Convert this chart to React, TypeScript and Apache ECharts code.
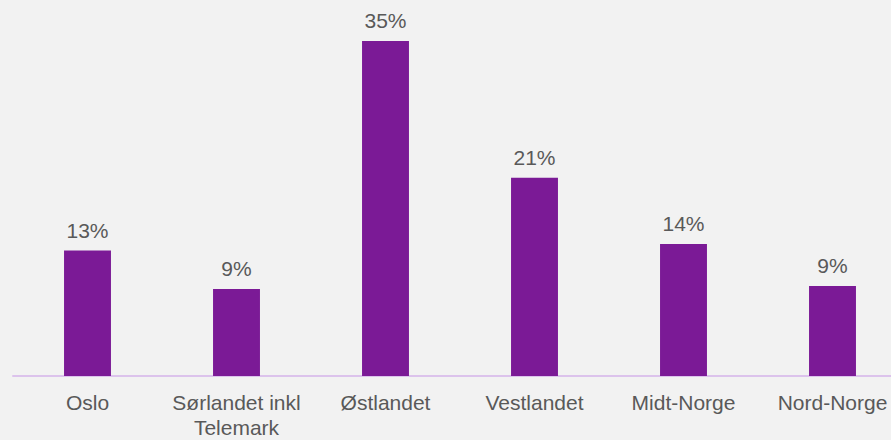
import React, { useEffect, useRef } from "react";
import * as echarts from "echarts";

const categories = ["Oslo", "Sørlandet inkl\nTelemark", "Østlandet", "Vestlandet", "Midt-Norge", "Nord-Norge"];
const values = [13.1, 9.1, 35.0, 20.7, 13.8, 9.4];

const FONT = "'Liberation Sans', Arial, sans-serif";

export default function App() {
  const ref = useRef<HTMLDivElement>(null);
  useEffect(() => {
    const chart = echarts.init(ref.current!, null, { renderer: "svg" });
    chart.setOption({
      animation: false,
      backgroundColor: "#F2F2F2",
      grid: { left: 13, right: 0, top: 41, bottom: 59 },
      xAxis: {
        type: "category",
        data: categories,
        axisLine: { lineStyle: { color: "#DCC3EC", width: 2 } },
        axisTick: { show: false },
        axisLabel: {
          color: "#595959",
          fontSize: 21,
          fontFamily: FONT,
          margin: 14,
          lineHeight: 25,
          interval: 0,
        },
      },
      yAxis: { type: "value", min: 0, max: 35, show: false, splitLine: { show: false } },
      series: [
        {
          type: "bar",
          data: values,
          barWidth: "31.5%",
          itemStyle: { color: "#7B1A96" },
          label: {
            show: true,
            position: "top",
            distance: 10,
            color: "#595959",
            fontSize: 21,
            fontFamily: FONT,
            formatter: (p: any) => Math.round(p.value) + "%",
          },
        },
      ],
    });
    return () => chart.dispose();
  }, []);
  return (
    <div style={{ position: "fixed", left: 0, top: 0, width: 891, height: 440, overflow: "hidden", background: "#F2F2F2" }}>
      <div ref={ref} style={{ width: 907, height: 440 }} />
    </div>
  );
}
